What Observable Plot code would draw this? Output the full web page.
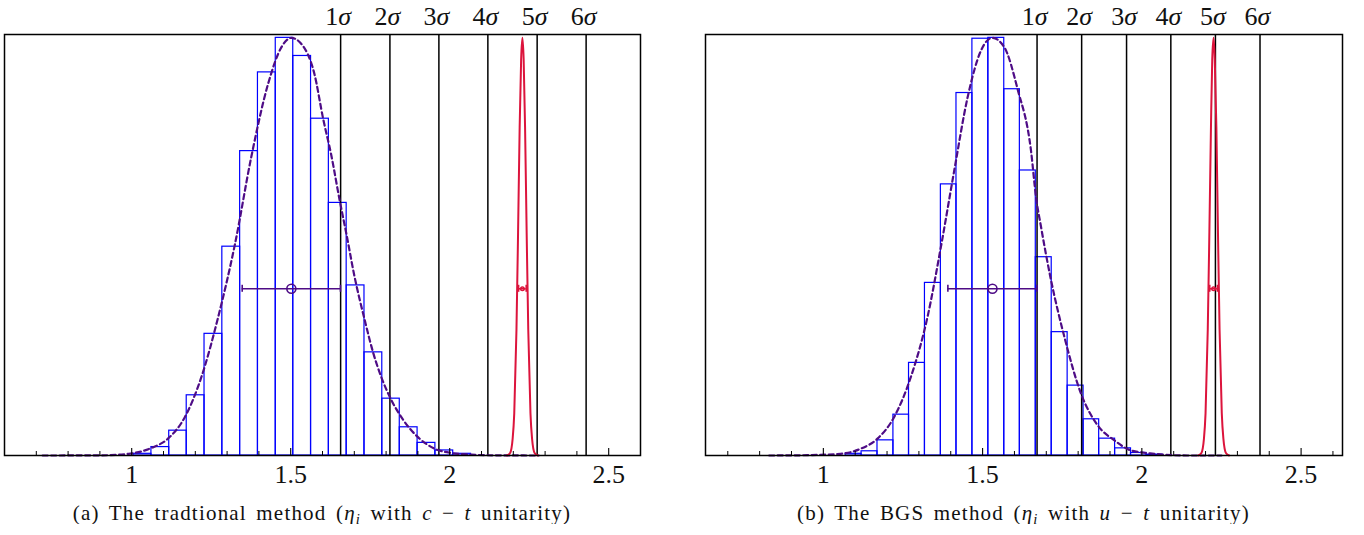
<!DOCTYPE html>
<html><head><meta charset="utf-8">
<script src="https://cdn.jsdelivr.net/npm/d3@7"></script>
<script src="https://cdn.jsdelivr.net/npm/@observablehq/plot@0.6"></script>
<style>
body{margin:0;background:#fff;}
#wrap{display:flex;width:1364px;}
.panel{width:682px;}
.cap{font-family:"Liberation Serif",serif;font-size:21px;line-height:22px;text-align:center;white-space:nowrap;letter-spacing:1.2px;word-spacing:3px;color:#111;}
.cap sub{font-size:70%;vertical-align:-0.3em;line-height:0;}
</style></head><body><div id="wrap"></div>
<script>
// ---- tick labels ----
const majorTicks = [1, 1.5, 2, 2.5];
const minorTicksA = [0.7,0.8,0.9,1.1,1.2,1.3,1.4,1.6,1.7,1.8,1.9,2.1,2.2,2.3,2.4];
const minorTicksB = [0.7,0.8,0.9,1.1,1.2,1.3,1.4,1.6,1.7,1.8,1.9,2.1,2.2,2.3,2.4,2.6];
const sigmaLabels = ["1σ","2σ","3σ","4σ","5σ","6σ"];

// ---- panel (a) ----
const binEdgesA = [1.006,1.062,1.118,1.173,1.229,1.285,1.341,1.397,1.453,1.508,1.564,1.620,1.676,1.732,1.788,1.843,1.899,1.955,2.011,2.067];
const binHeightsA = [0.004,0.020,0.059,0.143,0.289,0.496,0.723,0.910,0.992,0.949,0.800,0.600,0.404,0.245,0.135,0.067,0.030,0.012,0.004];
const fitXA = [0.72,0.90,0.99,1.062,1.114,1.167,1.219,1.272,1.325,1.376,1.429,1.471,1.502,1.533,1.575,1.602,1.628,1.654,1.675,1.701,1.733,1.759,1.785,1.817,1.848,1.901,1.953,2.005,2.068,2.15,2.28];
const fitYA = [0,0.0003,0.004,0.018,0.040,0.091,0.186,0.329,0.503,0.709,0.883,0.970,0.992,0.978,0.905,0.800,0.712,0.606,0.527,0.424,0.321,0.245,0.186,0.131,0.091,0.043,0.016,0.006,0.002,0.0003,0];
const redXA = [2.180,2.190,2.198,2.203,2.210,2.215,2.220,2.2246,2.2286,2.2326,2.237,2.242,2.247,2.254,2.259,2.267,2.277];
const redYA = [0,0.006,0.04,0.10,0.30,0.53,0.78,0.94,0.992,0.94,0.78,0.53,0.30,0.10,0.04,0.006,0];
const sigmaLinesA = [1.657,1.812,1.966,2.120,2.275,2.429];
const meanA = 1.502, errA = 0.1545, redMeanA = 2.2286, redErrA = 0.012;

// ---- panel (b) ----
const binEdgesB = [1.070,1.120,1.170,1.220,1.269,1.319,1.369,1.418,1.468,1.518,1.568,1.617,1.667,1.717,1.767,1.817,1.866,1.916,1.966,2.015,2.065];
const binHeightsB = [0.004,0.010,0.036,0.097,0.220,0.410,0.644,0.861,0.990,0.992,0.870,0.677,0.471,0.293,0.166,0.086,0.040,0.017,0.006,0.002];
const fitXB = [0.83,0.95,1.054,1.117,1.170,1.222,1.2745,1.327,1.369,1.411,1.453,1.495,1.531,1.568,1.610,1.652,1.668,1.683,1.715,1.757,1.809,1.862,1.914,1.966,2.040,2.145,2.25];
const fitYB = [0,0.0008,0.004,0.016,0.040,0.091,0.186,0.329,0.495,0.677,0.851,0.962,0.992,0.970,0.870,0.724,0.612,0.545,0.416,0.281,0.147,0.071,0.036,0.012,0.004,0,0];
const redXB = [2.177,2.187,2.195,2.200,2.207,2.212,2.217,2.221,2.2252,2.229,2.234,2.239,2.244,2.251,2.256,2.264,2.274];
const redYB = [0,0.006,0.04,0.10,0.30,0.53,0.78,0.94,0.992,0.94,0.78,0.53,0.30,0.10,0.04,0.006,0];
const sigmaLinesB = [1.671,1.811,1.952,2.091,2.231,2.371];
const meanB = 1.531, errB = 0.140, redMeanB = 2.2252, redErrB = 0.012;
const errBarY = 0.396;

const PURPLE = "#4e0c86", RED = "#dc143c", BLUE = "#0000ff";

function panel(o) {
  const bins = o.heights.map((h, i) => ({x1: o.edges[i], x2: o.edges[i + 1], h}));
  const fit = o.fitX.map((x, i) => ({x, y: o.fitY[i]}));
  const red = o.redX.map((x, i) => ({x, y: o.redY[i]}));
  const errs = [
    {c: o.mean, e: o.err, color: PURPLE},
    {c: o.redMean, e: o.redErr, color: RED}
  ];
  const caps = errs.flatMap(d => [{x: d.c - d.e, color: d.color}, {x: d.c + d.e, color: d.color}]);
  const svg = Plot.plot({
    width: 682, height: 490,
    marginLeft: o.ml, marginRight: o.mr, marginTop: 34, marginBottom: 35,
    style: {fontFamily: "'Liberation Serif', serif", background: "#fff", overflow: "visible"},
    x: {domain: o.domain},
    y: {domain: [0, 1], axis: null},
    marks: [
      Plot.rect(bins, {x1: "x1", x2: "x2", y1: 0, y2: "h", fill: "none", stroke: BLUE, strokeWidth: 1.2}),
      Plot.ruleX(o.sigmaLines, {stroke: "#000", strokeWidth: 1.5}),
      Plot.text(o.sigmaLines, {x: d => d, text: (d, i) => sigmaLabels[i], frameAnchor: "top", lineAnchor: "bottom", dy: -10, dx: -2.5, fontSize: 26, fill: "#111"}),
      Plot.line(fit, {x: "x", y: "y", stroke: PURPLE, strokeWidth: 2.2, strokeDasharray: "5,3.5", curve: "monotone-x"}),
      Plot.line(red, {x: "x", y: "y", stroke: RED, strokeWidth: 2, curve: "monotone-x"}),
      Plot.ruleY(errs, {x1: d => d.c - d.e, x2: d => d.c + d.e, y: errBarY, stroke: "color", strokeWidth: 1.6}),
      Plot.ruleX(caps, {x: "x", y1: errBarY, y2: errBarY, insetTop: -3.5, insetBottom: -3.5, stroke: "color", strokeWidth: 1.6}),
      Plot.dot([errs[0]], {x: "c", y: errBarY, r: 4.5, stroke: PURPLE, strokeWidth: 1.6, fill: "none"}),
      Plot.dot([errs[1]], {x: "c", y: errBarY, r: 1.8, stroke: RED, strokeWidth: 1.4, fill: "none"}),
      Plot.ruleX(o.minor, {x: d => d, y1: 0, y2: 0, insetTop: -4, insetBottom: 0, stroke: "#000", strokeWidth: 1}),
      Plot.ruleX(majorTicks, {x: d => d, y1: 0, y2: 0, insetTop: -7, insetBottom: 0, stroke: "#000", strokeWidth: 1.1}),
      Plot.axisX(majorTicks, {anchor: "bottom", tickSize: 0, tickPadding: 9, fontSize: 26, label: null, tickFormat: d => String(d), fill: "#111"}),
      Plot.frame({stroke: "#000", strokeWidth: 1.5})
    ]
  });
  // italic sigma
  d3.select(svg).selectAll("text").each(function() {
    const t = this.textContent;
    if (t.endsWith("σ")) {
      const s = d3.select(this);
      s.text(t.slice(0, -1));
      s.append("tspan").attr("font-style", "italic").text("σ");
    }
  });
  const div = document.createElement("div");
  div.className = "panel";
  div.appendChild(svg);
  const cap = document.createElement("div");
  cap.className = "cap";
  cap.style.marginLeft = o.ml + "px";
  cap.style.width = (682 - o.ml - o.mr) + "px";
  cap.style.marginTop = "12px";
  cap.innerHTML = o.caption;
  div.appendChild(cap);
  return div;
}

const wrap = document.getElementById("wrap");
wrap.appendChild(panel({
  edges: binEdgesA, heights: binHeightsA, fitX: fitXA, fitY: fitYA, redX: redXA, redY: redYA,
  sigmaLines: sigmaLinesA, mean: meanA, err: errA, redMean: redMeanA, redErr: redErrA,
  domain: [0.6, 2.6], minor: minorTicksA, ml: 4, mr: 42,
  caption: "(a) The tradtional method (<i>η<sub>i</sub></i> with <i>c</i> − <i>t</i> unitarity)"
}));
wrap.appendChild(panel({
  edges: binEdgesB, heights: binHeightsB, fitX: fitXB, fitY: fitYB, redX: redXB, redY: redYB,
  sigmaLines: sigmaLinesB, mean: meanB, err: errB, redMean: redMeanB, redErr: redErrB,
  domain: [0.63, 2.63], minor: minorTicksB, ml: 23, mr: 22,
  caption: "(b) The BGS method (<i>η<sub>i</sub></i> with <i>u</i> − <i>t</i> unitarity)"
}));
</script>
</body></html>
